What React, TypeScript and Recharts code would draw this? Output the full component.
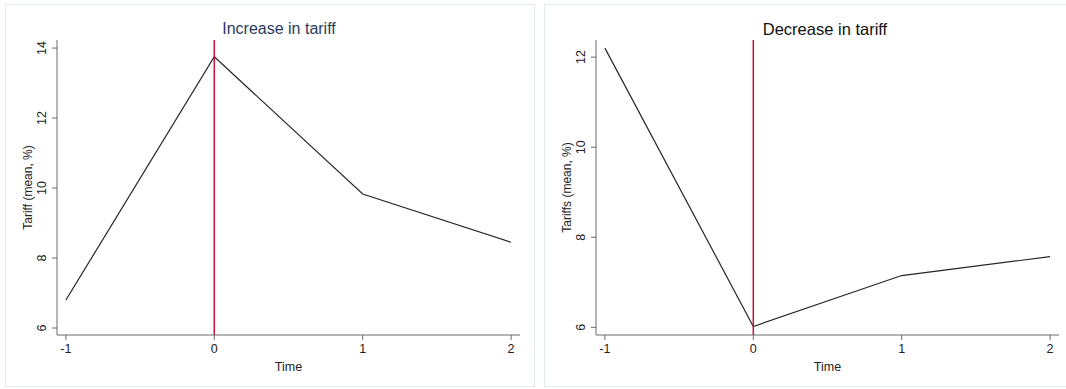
import { LineChart, Line, XAxis, YAxis, ReferenceLine } from 'recharts'

const times = [-1, 0, 1, 2]
const increaseTariff = [6.8, 13.75, 9.83, 8.45]
const decreaseTariff = [12.2, 6.02, 7.15, 7.57]
const xTicks = [-1, 0, 1, 2]
const leftYTicks = [6, 8, 10, 12, 14]
const rightYTicks = [6, 8, 10, 12]

const FONT = '"Liberation Sans", Arial, Helvetica, sans-serif'
const AXIS = '#6b6b6b'

const leftData = times.map((t, i) => ({ time: t, tariff: increaseTariff[i] }))
const rightData = times.map((t, i) => ({ time: t, tariff: decreaseTariff[i] }))

function RotTick(props: any) {
  const { x, y, payload } = props
  const bx = x - 4
  return (
    <text x={bx} y={y} transform={`rotate(-90 ${bx} ${y})`} textAnchor="middle" fontSize={12.5} fill="#222" fontFamily={FONT}>
      {payload.value}
    </text>
  )
}

type PanelProps = {
  data: Array<{ time: number; tariff: number }>
  yDomain: [number, number]
  yTicks: number[]
  yLabel: string
  width: number
  right: number
}

function Panel({ data, yDomain, yTicks, yLabel, width, right }: PanelProps) {
  return (
    <LineChart width={width} height={384} data={data} margin={{ top: 36, right, bottom: 13, left: 0 }}>
      <XAxis
        dataKey="time"
        type="number"
        domain={[-1.06, 2.06]}
        ticks={xTicks}
        tickSize={5}
        tickMargin={4}
        height={40}
        stroke={AXIS}
        tick={{ fontSize: 12.5, fill: '#222', fontFamily: FONT }}
        label={{ value: 'Time', position: 'insideBottom', offset: 4, fontSize: 12.5, fill: '#222', fontFamily: FONT }}
      />
      <YAxis
        type="number"
        domain={yDomain}
        ticks={yTicks}
        tickSize={5}
        width={52}
        stroke={AXIS}
        tick={<RotTick />}
        allowDataOverflow
        label={{ value: yLabel, angle: -90, position: 'insideLeft', offset: 23, fontSize: 12, fill: '#222', fontFamily: FONT, style: { textAnchor: 'middle' } }}
      />
      <Line dataKey="tariff" stroke="#262626" strokeWidth={1.2} dot={false} isAnimationActive={false} />
      <ReferenceLine x={0} stroke="#c4123c" strokeWidth={1.5} />
    </LineChart>
  )
}

const boxStyle = {
  position: 'absolute' as const,
  top: 4,
  height: 383,
  border: '1px solid #e4ebef',
  boxSizing: 'border-box' as const,
}

export default function App() {
  return (
    <div style={{ position: 'absolute', left: 0, top: 0, width: 1066, height: 389, background: '#fff', overflow: 'hidden', fontFamily: FONT }}>
      <div style={{ ...boxStyle, left: 5, width: 530 }} />
      <div style={{ ...boxStyle, left: 544, width: 530 }} />
      <div style={{ position: 'absolute', left: 5, top: 4 }}>
        <Panel data={leftData} yDomain={[5.8, 14.23]} yTicks={leftYTicks} yLabel="Tariff (mean, %)" width={530} right={15} />
      </div>
      <div style={{ position: 'absolute', left: 544, top: 4 }}>
        <Panel data={rightData} yDomain={[5.83, 12.38]} yTicks={rightYTicks} yLabel="Tariffs (mean, %)" width={522} right={7} />
      </div>
      <div style={{ position: 'absolute', left: 179, width: 200, top: 20, textAlign: 'center', fontSize: 16, color: '#2a3a60' }}>
        Increase in tariff
      </div>
      <div style={{ position: 'absolute', left: 725, width: 200, top: 20, textAlign: 'center', fontSize: 16.5, color: '#111' }}>
        Decrease in tariff
      </div>
    </div>
  )
}
